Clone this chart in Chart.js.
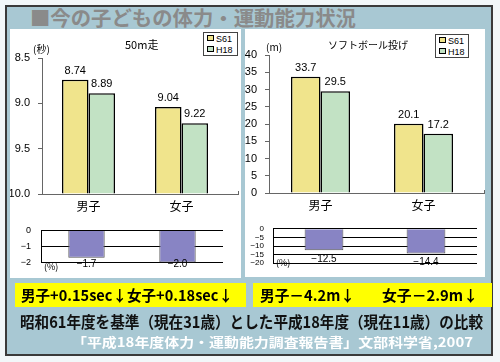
<!DOCTYPE html>
<html>
<head>
<meta charset="utf-8">
<script src="https://cdn.jsdelivr.net/npm/chart.js@4.4.1/dist/chart.umd.min.js"></script>
<style>
  body { margin: 0; width: 500px; height: 362px; background: #f2f7f9; position: relative; overflow: hidden;
         font-family: "Noto Sans CJK JP", sans-serif; }
  .abs { position: absolute; }
  #frame { left: 5px; top: 5px; width: 488px; height: 351px; box-sizing: border-box;
           background: #a8c8d3; border: 2px solid #3a3a3a; }
  .panel { background: #fff; }
  .fit { white-space: nowrap; transform-origin: 0 50%; display: inline-block; }
  .yellow { background: #ffff00; }
  .big { font-weight: bold; font-size: 15px; line-height: 24px; color: #000; }
  .small { font-size: 10px; color: #000; white-space: nowrap; }
  .legend { background: #fff; border: 1px solid #444; box-sizing: border-box; font: 9px "Liberation Sans", Arial, sans-serif; }
  .legend div { height: 11px; line-height: 11px; padding-left: 3px; }
  .legend span { display: inline-block; width: 5px; height: 4px; border: 1px solid #000; margin-right: 2px; vertical-align: 1px; }
  canvas { position: absolute; }
</style>
</head>
<body>
<div id="frame" class="abs"></div>
<div id="title" class="abs fit" style="left:30px;top:6px;font-size:20px;line-height:24px;font-weight:bold;color:#8a8a8a">■今の子どもの体力・運動能力状況</div>

<div class="abs panel" style="left:10px;top:29px;width:231px;height:249px"></div>
<div class="abs panel" style="left:245px;top:29px;width:240px;height:248px"></div>

<canvas id="run" width="231" height="186" style="left:10px;top:29px"></canvas>
<canvas id="throw" width="240" height="186" style="left:245px;top:29px"></canvas>
<canvas id="runChg" width="231" height="63" style="left:10px;top:215px"></canvas>
<canvas id="throwChg" width="240" height="62" style="left:245px;top:215px"></canvas>

<div class="abs small" style="left:125px;top:36px;font-size:11px">50m走</div>
<div class="abs small" style="left:328px;top:37px;font-size:10px">ソフトボール投げ</div>
<div class="abs small" style="left:33px;top:41px">(秒)</div>
<div class="abs small" style="left:266px;top:39px">(m)</div>
<div class="abs small" style="left:44px;top:260px;font-size:9px">(%)</div>
<div class="abs small" style="left:276px;top:256px;font-size:9px">(%)</div>

<div id="legRun" class="abs legend" style="left:203px;top:32px;width:35px;height:24px"></div>
<div id="legThrow" class="abs legend" style="left:435px;top:34px;width:34px;height:24px"></div>

<div class="abs yellow" style="left:15px;top:283px;width:231px;height:24px"></div>
<div class="abs yellow" style="left:253px;top:283px;width:239px;height:24px"></div>
<div id="y1" class="abs fit big" style="left:21px;top:283px">男子+0.15sec↓女子+0.18sec↓</div>
<div id="y2" class="abs fit big" style="left:260px;top:283px">男子－4.2m↓</div>
<div id="y3" class="abs fit big" style="left:382px;top:283px">女子－2.9m↓</div>
<div id="cmp" class="abs fit" style="left:20px;top:310px;font-size:16px;line-height:22px;font-weight:bold;color:#111">昭和61年度を基準（現在31歳）とした平成18年度（現在11歳）の比較</div>
<div id="src" class="abs fit" style="left:72px;top:333px;font-size:13px;line-height:18px;font-weight:bold;color:#fff">「平成18年度体力・運動能力調査報告書」文部科学省,2007</div>

<script>
// data
const groups = ['男子', '女子'];
const seriesNames = ['S61', 'H18'];
const seriesColors = ['#f0e48c', '#c2e2c4'];
const run50S61 = [8.74, 9.04];
const run50H18 = [8.89, 9.22];
const throwS61 = [33.7, 20.1];
const throwH18 = [29.5, 17.2];
const run50Change = [-1.7, -2.0];
const throwChange = [-12.5, -14.4];

Chart.defaults.font.family = '"Liberation Sans", Arial, sans-serif';
Chart.defaults.color = '#000';

// stretch text blocks to the widths seen in the picture
function fit(id, w) {
  const el = document.getElementById(id);
  el.style.transform = 'scaleX(' + (w / el.getBoundingClientRect().width) + ')';
}
fit('title', 326);
fit('y1', 212);
fit('y2', 95);
fit('y3', 96);
fit('cmp', 463);
fit('src', 401);

// legends
function buildLegend(id) {
  const box = document.getElementById(id);
  box.style.paddingTop = '1px';
  seriesNames.forEach((name, i) => {
    const row = document.createElement('div');
    row.innerHTML = '<span style="background:' + seriesColors[i] + '"></span>' + name;
    box.appendChild(row);
  });
}
buildLegend('legRun');
buildLegend('legThrow');

// value labels on bars + x axis line stub
const barLabels = {
  id: 'barLabels',
  afterDatasetsDraw(chart, args, opts) {
    const ctx = chart.ctx;
    const area = chart.chartArea;
    ctx.save();
    ctx.font = opts.size + 'px "Liberation Sans", Arial, sans-serif';
    ctx.fillStyle = '#000';
    ctx.textAlign = 'center';
    ctx.textBaseline = 'middle';
    chart.data.datasets.forEach((ds, i) => {
      chart.getDatasetMeta(i).data.forEach((bar, j) => {
        let y = bar.y + opts.offset;
        if (opts.clamp) y = Math.min(y, area.bottom + 2);
        const txt = ds.data[j].toFixed(opts.digits).replace('-', '−');
        ctx.fillText(txt, bar.x, y);
      });
    });
    if (opts.extend) {
      ctx.strokeStyle = '#666';
      ctx.lineWidth = 1;
      ctx.beginPath();
      ctx.moveTo(area.right, area.bottom + 0.5);
      ctx.lineTo(area.right + opts.extend, area.bottom + 0.5);
      ctx.moveTo(area.right + opts.extend - 0.5, area.bottom);
      ctx.lineTo(area.right + opts.extend - 0.5, area.bottom - 3);
      ctx.stroke();
    }
    ctx.restore();
  }
};

function mainChart(id, a, b, yOpts, pad, yWidth, xHeight, catPct, digits, extend, base) {
  const ds = (data, i) => ({
    label: seriesNames[i], data, backgroundColor: seriesColors[i],
    borderColor: '#000', borderWidth: 1.5, base,
    categoryPercentage: catPct, barPercentage: 1
  });
  return new Chart(document.getElementById(id), {
    type: 'bar',
    data: { labels: groups, datasets: [ds(a, 0), ds(b, 1)] },
    options: {
      responsive: false, animation: false,
      layout: { padding: pad },
      plugins: { legend: { display: false }, tooltip: { enabled: false },
                 barLabels: { offset: -9, digits, size: 11, extend } },
      scales: {
        x: {
          grid: { drawOnChartArea: false, drawTicks: false },
          border: { color: '#666' },
          ticks: { padding: 5, font: { size: 12, family: '"Noto Sans CJK JP"' } },
          afterFit: s => { s.height = xHeight; }
        },
        y: Object.assign({
          grid: { drawOnChartArea: false, tickLength: 4, color: '#666' },
          border: { color: '#666' },
          afterFit: s => { s.width = yWidth; }
        }, yOpts)
      }
    },
    plugins: [barLabels]
  });
}

function changeChart(id, vals, yOpts, pad, yWidth, barPct) {
  return new Chart(document.getElementById(id), {
    type: 'bar',
    data: { labels: groups, datasets: [{
      data: vals, backgroundColor: '#8884c4', borderColor: '#555', borderWidth: 1,
      categoryPercentage: barPct, barPercentage: 1
    }] },
    options: {
      responsive: false, animation: false,
      layout: { padding: pad },
      plugins: { legend: { display: false }, tooltip: { enabled: false },
                 barLabels: { offset: 9, digits: 1, size: 10, clamp: true } },
      scales: {
        x: { display: false },
        y: Object.assign({
          grid: { color: '#000', drawTicks: false },
          border: { color: '#000' },
          afterFit: s => { s.width = yWidth; }
        }, yOpts)
      }
    },
    plugins: [barLabels]
  });
}

mainChart('run', run50S61, run50H18, {
  reverse: true, min: 8.5, max: 10,
  ticks: { stepSize: 0.5, padding: 8, font: { size: 11 }, callback: v => v.toFixed(1) }
}, { top: 29, right: 13 }, 32, 21, 0.57, 2, 11, 10);

mainChart('throw', throwS61, throwH18, {
  min: 0, max: 40,
  ticks: { stepSize: 5, padding: 8, font: { size: 11 }, autoSkip: false }
}, { top: 26, right: 10 }, 24, 22, 0.573, 1, 10, 0);

changeChart('runChg', run50Change, {
  min: -2, max: 0,
  ticks: { stepSize: 1, padding: 10, autoSkip: false, font: { size: 9 }, callback: v => String(v).replace('-', '−') }
}, { top: 8, right: 18, bottom: 4 }, 31, 0.4);

changeChart('throwChg', throwChange, {
  min: -20, max: 0,
  ticks: { stepSize: 5, padding: 9, autoSkip: false, font: { size: 8 }, callback: v => String(v).replace('-', '−') }
}, { top: 7, right: 8, bottom: 5 }, 28, 0.38);
</script>
</body>
</html>
